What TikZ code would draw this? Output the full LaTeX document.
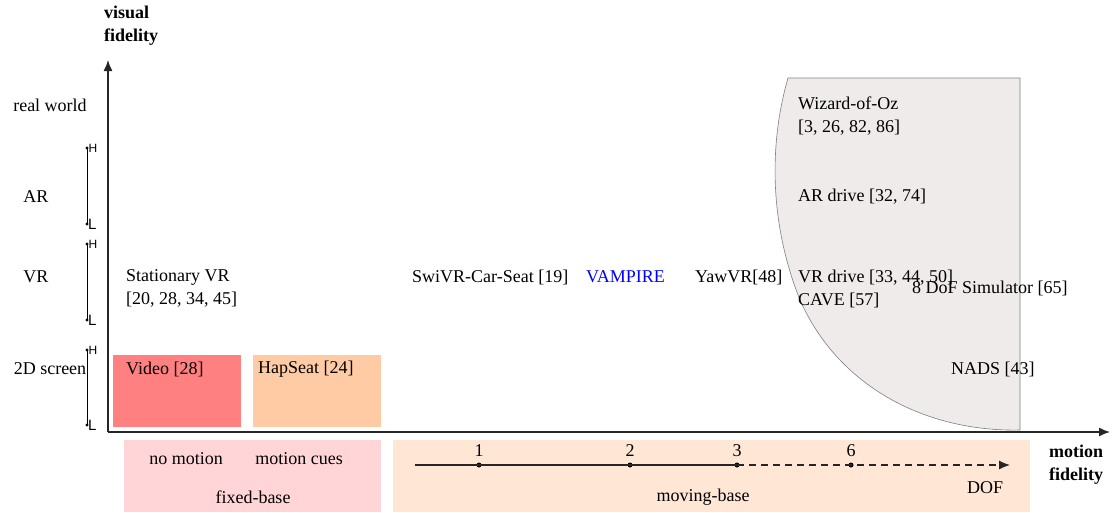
\documentclass[tikz,border=0pt]{standalone}
\usepackage{fontspec}
\setmainfont{Liberation Serif}
\newfontfamily\hlfont{Liberation Sans}
\usetikzlibrary{arrows.meta}
\definecolor{videored}{HTML}{FF8080}
\definecolor{happeach}{HTML}{FFCBA5}
\definecolor{fixpink}{HTML}{FFD5D8}
\definecolor{movepeach}{HTML}{FFE6D5}
\definecolor{zonegrey}{HTML}{EFEBEA}
\definecolor{zoneedge}{HTML}{808080}
\begin{document}
\begin{tikzpicture}[x=1pt,y=-1pt,
  every node/.style={font=\fontsize{18}{23}\selectfont, inner sep=0pt},
  lbl/.style={anchor=west, align=left},
  ctr/.style={anchor=center},
  axislbl/.style={anchor=west, align=left, font=\fontsize{18}{23}\selectfont\bfseries},
  axisline/.style={draw=black!85, line width=1.3pt, -{Latex[length=11pt,width=9pt]}},
  hlbar/.style={draw=black, line width=1pt},
  hmark/.style={anchor=west, font=\fontsize{12}{12}\selectfont\hlfont},
  lmark/.style={anchor=west, font=\fontsize{15}{15}\selectfont\hlfont},
  dofdot/.style={circle, fill=black, minimum size=5pt, inner sep=0pt},
  dofline/.style={draw=black!85, line width=1.1pt}]
\useasboundingbox (0,0) rectangle (1118,512);

% region of full-motion, high-fidelity setups
\fill[zonegrey] (788,78) -- (1020,78) -- (1020,430)
  .. controls (930,432) and (840,390) .. (800,300)
  .. controls (768,220) and (770,140) .. (788,78) -- cycle;
\draw[zoneedge, line width=0.6pt] (1020,430) -- (1020,78) -- (788,78)
  .. controls (770,140) and (768,220) .. (800,300)
  .. controls (840,390) and (930,432) .. (1020,430);

% base classes under the motion axis
\fill[fixpink] (124,440) rectangle (381,512);
\fill[movepeach] (393,440) rectangle (1030,512);

% filled study boxes
\fill[videored] (113,355) rectangle (241,427);
\fill[happeach] (253,355) rectangle (381,427);

% axes
\coordinate (origin) at (108,432);
\coordinate (ytip) at (108,60);
\coordinate (xtip) at (1110,432);
\draw[axisline] (origin) -- (ytip);
\draw[axisline] (origin) -- (xtip);
\node[axislbl] (vf) at (104,26) {visual\\fidelity};
\node[axislbl] (mf) at (1049,465) {motion\\fidelity};

% visual levels
\node[ctr] (realworld) at (50,105) {real world};
\node[ctr] (ar) at (36,197) {AR};
\node[ctr] (vr) at (36,277) {VR};
\node[ctr] (screen) at (50,369) {2D screen};

% H/L ranges
\foreach \top/\bot/\nm in {148/224/a, 244/320/b, 350/425/c}{
  \coordinate (h\nm) at (87,\top);
  \coordinate (l\nm) at (87,\bot);
  \draw[hlbar] (h\nm) -- (l\nm);
  \fill (h\nm) circle (1.6);
  \fill (l\nm) circle (1.6);
  \node[hmark] (ht\nm) at (88.5,\top) {H};
  \node[lmark] (lt\nm) at (88,\bot) {L};
}

% studies
\node[lbl] (statvr) at (126,288.5) {Stationary VR\\{}[20, 28, 34, 45]};
\node[lbl] (video) at (126,369) {Video [28]};
\node[lbl] (hapseat) at (258,369) {HapSeat [24]};
\node[lbl] (swivr) at (412,277) {SwiVR-Car-Seat [19]};
\node[lbl, text=blue] (vampire) at (586,277) {VAMPIRE};
\node[lbl] (yawvr) at (695,277) {YawVR[48]};
\node[lbl] (woz) at (798,116.5) {Wizard-of-Oz\\{}[3, 26, 82, 86]};
\node[lbl] (ardrive) at (798,197) {AR drive [32, 74]};
\node[lbl] (vrdrive) at (798,288.5) {VR drive [33, 44, 50]\\CAVE [57]};
\node[lbl] (dof8) at (912,288) {8 DoF Simulator [65]};
\node[lbl] (nads) at (951,369) {NADS [43]};

% fixed-base labels
\node[ctr] (nomotion) at (186,459) {no motion};
\node[ctr] (cues) at (299,459) {motion cues};
\node[ctr] (fixed) at (253,497) {fixed-base};

% degrees of freedom scale
\coordinate (dofstart) at (415,465);
\coordinate (dofend) at (1010,465);
\node[dofdot] (d1) at (479,465) {};
\node[dofdot] (d2) at (630,465) {};
\node[dofdot] (d3) at (737,465) {};
\node[dofdot] (d6) at (851,465) {};
\draw[dofline] (dofstart) -- (d1.center) -- (d2.center) -- (d3.center);
\draw[dofline, dash pattern=on 7pt off 5pt, -{Latex[length=11pt,width=9pt]}] (d3.center) -- (dofend);
\node[ctr] (n1) at (479,451) {1};
\node[ctr] (n2) at (630,451) {2};
\node[ctr] (n3) at (737,451) {3};
\node[ctr] (n6) at (851,451) {6};
\node[ctr] (doflbl) at (985,488) {DOF};
\node[ctr] (moving) at (703,497) {moving-base};
\end{tikzpicture}
\end{document}
